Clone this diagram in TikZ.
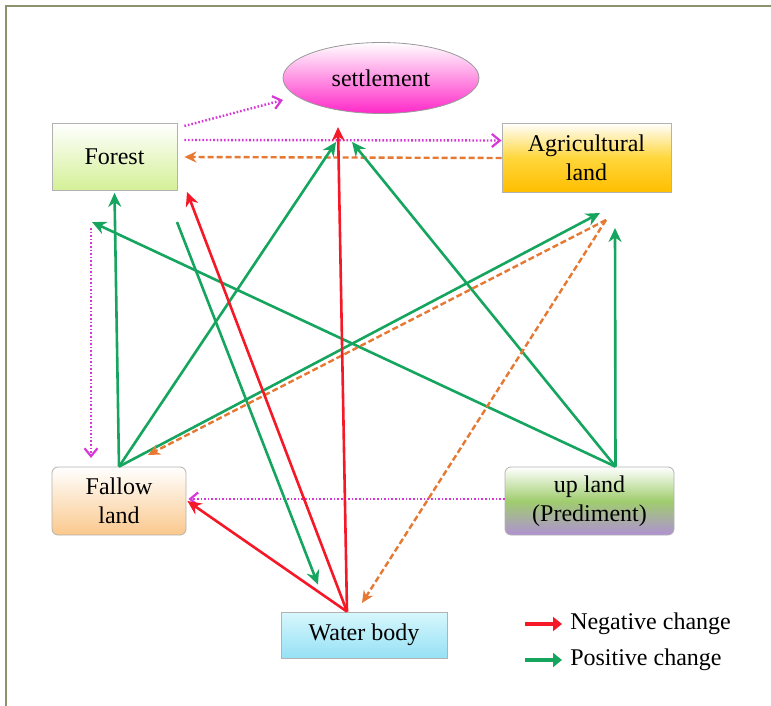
\documentclass[tikz,border=0pt]{standalone}
\usepackage{fontspec}
\setmainfont{Liberation Serif}
\usetikzlibrary{arrows.meta,shapes.geometric}

\definecolor{posgreen}{RGB}{22,165,95}
\definecolor{negred}{RGB}{245,25,40}
\definecolor{convorange}{RGB}{230,120,50}
\definecolor{shiftpink}{RGB}{215,55,215}
\definecolor{framegray}{RGB}{140,145,110}

\tikzset{
  landbox/.style={draw=gray!60, line width=0.8pt, align=center, inner sep=0pt,
    font=\fontsize{24}{29}\selectfont},
  poschange/.style={posgreen, line width=2.6pt, -{Stealth[length=14pt,width=13pt]}},
  negchange/.style={negred, line width=2.6pt, -{Stealth[length=14pt,width=13pt]}},
  convline/.style={convorange, line width=2.4pt, dash pattern=on 6pt off 3pt, -{Stealth[length=12pt,width=11pt]}},
  shiftline/.style={shiftpink, line width=2.4pt, dash pattern=on 1.6pt off 2pt, -{Straight Barb[length=8pt,width=13pt,line width=2.2pt]}},
  legarrow/.style={line width=4.5pt, -{Triangle[length=9pt,width=14pt]}},
  legtext/.style={right, inner sep=6pt, text=black, font=\fontsize{24}{29}\selectfont}
}

\begin{document}
\begin{tikzpicture}[x=1pt,y=-1pt]
  \useasboundingbox (0,0) rectangle (771,706);
  \draw[framegray, line width=2pt] (6,706) -- (6,6) -- (771,6);

  \node[landbox, ellipse, draw=gray!80, minimum width=196pt, minimum height=71pt,
        top color=white, bottom color={rgb,255:red,255;green,40;blue,200}] (settlement) at (381,78) {settlement};
  \node[landbox, minimum width=125pt, minimum height=67pt,
        top color=white, bottom color={rgb,255:red,212;green,240;blue,150}] (forest) at (114.5,157) {Forest};
  \node[landbox, minimum width=169pt, minimum height=69pt,
        top color=white, bottom color={rgb,255:red,255;green,190;blue,0},
        middle color={rgb,255:red,255;green,215;blue,60}] (agri) at (586.5,157.5) {Agricultural\\land};
  \node[landbox, rounded corners=6pt, minimum width=134pt, minimum height=68pt,
        top color=white, bottom color={rgb,255:red,250;green,200;blue,140}] (fallow) at (119,501) {Fallow\\land};
  \node[landbox, rounded corners=6pt, minimum width=169pt, minimum height=68pt,
        top color=white, bottom color={rgb,255:red,175;green,145;blue,210},
        middle color={rgb,255:red,160;green,205;blue,110}] (upland) at (589.5,501) {up land\\(Prediment)};
  \node[landbox, minimum width=166pt, minimum height=46pt,
        top color={rgb,255:red,215;green,247;blue,252}, bottom color={rgb,255:red,150;green,225;blue,245}] (water) at (364,635) {Water body};

  \coordinate (upTop) at ([xshift=26pt]upland.north);
  \coordinate (waTop) at ([xshift=-17pt]water.north);
  \coordinate (agriPt) at (606,220);
  \coordinate (forestLow) at (92,222);
  \coordinate (forestSide) at (177,222);
  \coordinate (forestCorner) at (187,192);

  \draw[shiftline] ([xshift=7pt,yshift=31pt]forest.east) -- (283,100);
  \draw[shiftline] ([xshift=7pt,yshift=17pt]forest.east) -- ([yshift=17pt]agri.west);
  \draw[convline] ([yshift=-0.5pt]agri.west) -- ([xshift=7pt]forest.east);
  \draw[shiftline] (91,228) -- (91,458);
  \draw[shiftline] ([yshift=2pt]upland.west) -- ([xshift=2pt,yshift=2pt]fallow.east);

  \draw[poschange] (fallow.north) -- ([yshift=-2pt]forest.south);
  \draw[poschange] (fallow.north) -- (336,142);
  \draw[poschange] (fallow.north) -- ([xshift=-6pt,yshift=7pt]agriPt);
  \draw[poschange] (upTop) -- (forestLow);
  \draw[poschange] (upTop) -- (352,142);
  \draw[poschange] (upTop) -- ([xshift=9pt,yshift=-8pt]agriPt);
  \draw[poschange] (forestSide) -- ([xshift=-29pt,yshift=27pt]waTop);

  \draw[convline] (agriPt) -- (148,455);
  \draw[convline] (agriPt) -- (362,603);

  \draw[negchange] (waTop) -- (forestCorner);
  \draw[negchange] (waTop) -- ([xshift=1pt]fallow.east);
  \draw[negchange] (waTop) -- (338,127);

  \draw[legarrow, negred] (525,624) coordinate (negA) -- (562,624) node[legtext] (negText) {Negative change};
  \draw[legarrow, posgreen] (525,660) coordinate (posA) -- (562,660) node[legtext] (posText) {Positive change};
\end{tikzpicture}
\end{document}
